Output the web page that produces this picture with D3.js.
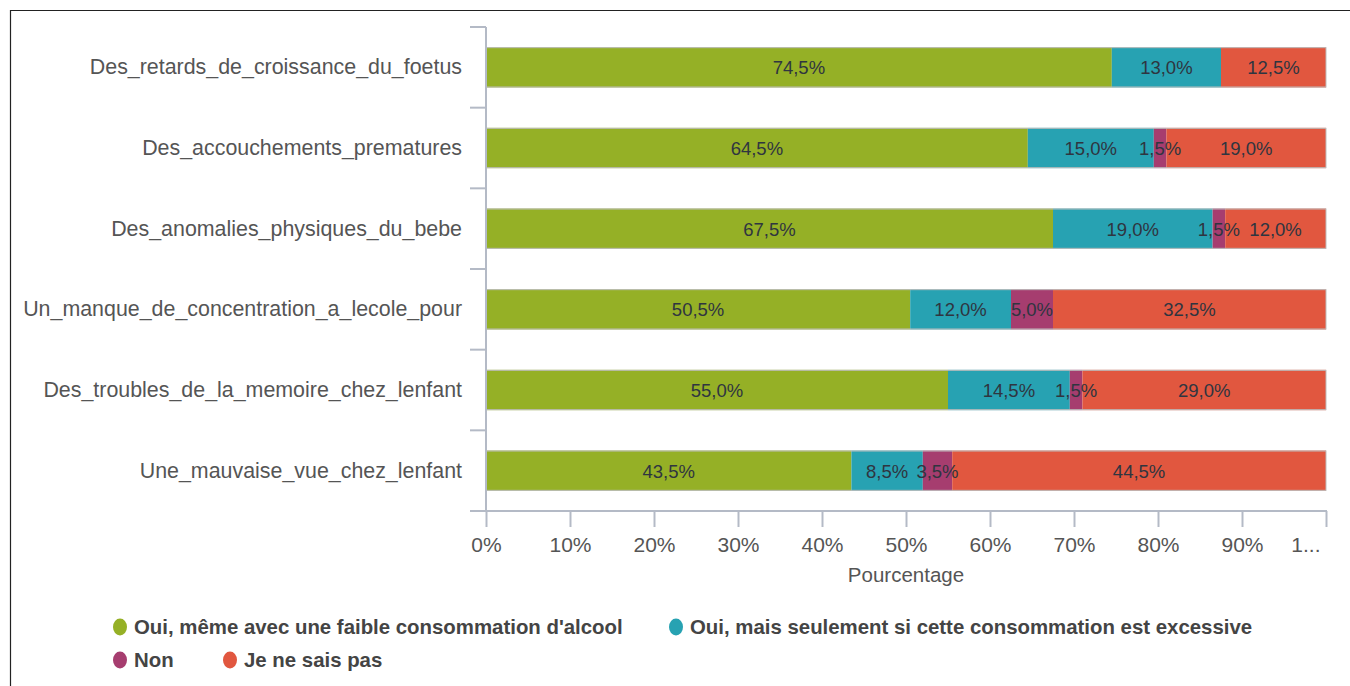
<!DOCTYPE html>
<html><head><meta charset="utf-8">
<script src="https://cdn.jsdelivr.net/npm/d3@7"></script>
<style>
html,body{margin:0;padding:0;background:#fff;}
svg{display:block;font-family:"Liberation Sans",Arial,sans-serif;}
</style></head>
<body>
<svg id="chart" width="1350" height="686"></svg>
<script>
const categories = [
  "Des_retards_de_croissance_du_foetus",
  "Des_accouchements_prematures",
  "Des_anomalies_physiques_du_bebe",
  "Un_manque_de_concentration_a_lecole_pour",
  "Des_troubles_de_la_memoire_chez_lenfant",
  "Une_mauvaise_vue_chez_lenfant"
];
const seriesNames = [
  "Oui, même avec une faible consommation d'alcool",
  "Oui, mais seulement si cette consommation est excessive",
  "Non",
  "Je ne sais pas"
];
const seriesColors = ["#95b026", "#27a2b2", "#a63d6f", "#e1573f"];
const ouiFaible    = [74.5, 64.5, 67.5, 50.5, 55.0, 43.5];
const ouiExcessive = [13.0, 15.0, 19.0, 12.0, 14.5, 8.5];
const non          = [0.0, 1.5, 1.5, 5.0, 1.5, 3.5];
const nsp          = [12.5, 19.0, 12.0, 32.5, 29.0, 44.5];
const tickValues = [0,10,20,30,40,50,60,70,80,90,100];
const tickLabels = ["0%","10%","20%","30%","40%","50%","60%","70%","80%","90%","1..."];
const axisTitle = "Pourcentage";

const seriesValues = [ouiFaible, ouiExcessive, non, nsp];
const rows = categories.map((c,i)=>{
  const o = {cat:c};
  seriesNames.forEach((s,j)=>o[s]=seriesValues[j][i]);
  return o;
});

const svg = d3.select("#chart");
// frame
svg.append("line").attr("x1",10).attr("x2",1350).attr("y1",10.5).attr("y2",10.5).attr("stroke","#222").attr("stroke-width",1.2);
svg.append("line").attr("x1",10.5).attr("x2",10.5).attr("y1",10).attr("y2",686).attr("stroke","#222").attr("stroke-width",1.2);

const x = d3.scaleLinear().domain([0,100]).range([486,1326]);
const y = d3.scaleBand().domain(categories).range([27,511]).paddingInner(0.5).paddingOuter(0.25);

const stack = d3.stack().keys(seriesNames)(rows);
const axisColor = "#b4bac6";

// bars
const g = svg.append("g");
stack.forEach((layer,j)=>{
  g.selectAll(null).data(layer).join("rect")
    .attr("x",d=>x(d[0])).attr("width",d=>x(d[1])-x(d[0]))
    .attr("y",d=>y(d.data.cat)).attr("height",y.bandwidth())
    .attr("fill",seriesColors[j]);
});
// outline
g.selectAll(null).data(categories).join("rect")
  .attr("x",x(0)).attr("width",x(100)-x(0))
  .attr("y",d=>y(d)+0.5).attr("height",y.bandwidth()-1)
  .attr("fill","none").attr("stroke","#bdbdbd").attr("stroke-width",1);

// labels
stack.forEach((layer,j)=>{
  g.selectAll(null).data(layer.filter(d=>d[1]-d[0]>0)).join("text")
    .attr("x",d=>(x(d[0])+x(d[1]))/2)
    .attr("y",d=>y(d.data.cat)+y.bandwidth()/2+7)
    .attr("text-anchor","middle")
    .attr("font-size",18.5).attr("fill","#2f3540")
    .text(d=>(d[1]-d[0]).toFixed(1).replace(".",",")+"%");
});

// y axis
const step = y.step();
const bounds = d3.range(categories.length+1).map(i=>y.range()[0]+i*step);
svg.append("line").attr("x1",486).attr("x2",486).attr("y1",bounds[0]).attr("y2",511).attr("stroke",axisColor).attr("stroke-width",2);
svg.selectAll(null).data(bounds).join("line")
  .attr("x1",470).attr("x2",486).attr("y1",d=>d).attr("y2",d=>d)
  .attr("stroke",axisColor).attr("stroke-width",2);
svg.selectAll(null).data(categories).join("text")
  .attr("x",462).attr("y",d=>y(d)+y.bandwidth()/2+7)
  .attr("text-anchor","end").attr("font-size",21.4).attr("fill","#555")
  .text(d=>d);

// x axis
const xa = svg.append("g").attr("transform","translate(0,511)")
  .call(d3.axisBottom(x).tickValues(tickValues).tickSize(16).tickPadding(10)
    .tickFormat((d,i)=>tickLabels[i]));
xa.select(".domain").remove();
xa.append("line").attr("x1",470).attr("x2",1327).attr("y1",0).attr("y2",0).attr("stroke",axisColor).attr("stroke-width",2);
xa.selectAll(".tick line").attr("stroke",axisColor).attr("stroke-width",2);
xa.selectAll(".tick text").attr("font-size",21).attr("fill","#555").attr("font-family","Liberation Sans, Arial, sans-serif");
xa.selectAll(".tick text").filter((d,i)=>i===tickLabels.length-1).attr("text-anchor","end").attr("dx",-6);

svg.append("text").attr("x",(x(0)+x(100))/2).attr("y",582).attr("text-anchor","middle")
  .attr("font-size",20.5).attr("fill","#555").text(axisTitle);

// legend
const legendPos = [[120,627],[676,627],[120,660],[230,660]];
seriesNames.forEach((s,j)=>{
  const [lx,ly] = legendPos[j];
  svg.append("ellipse").attr("cx",lx).attr("cy",ly).attr("rx",7).attr("ry",8.5).attr("fill",seriesColors[j]);
  svg.append("text").attr("x",lx+14).attr("y",ly+7).attr("font-size",20.4).attr("font-weight","bold")
    .attr("fill","#444").text(s);
});
</script>
</body></html>
